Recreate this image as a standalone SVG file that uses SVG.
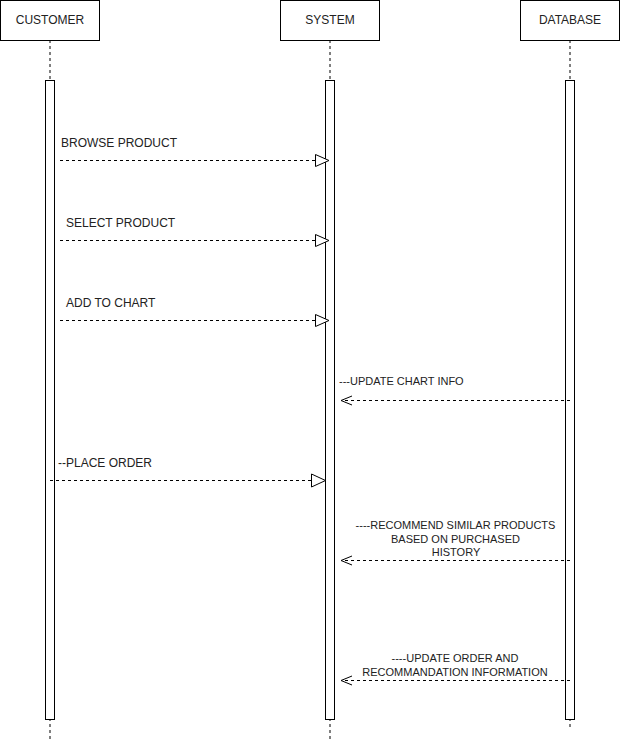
<svg xmlns="http://www.w3.org/2000/svg" width="621" height="741" viewBox="0 0 621 741">
<style>
.box{fill:#fff;stroke:#000;stroke-width:1}
.life{fill:none;stroke:#000;stroke-width:1;stroke-dasharray:3 3}
.msg{fill:none;stroke:#000;stroke-width:1;stroke-dasharray:3 3}
.head{fill:#fff;stroke:#000;stroke-width:1}
.open{fill:none;stroke:#000;stroke-width:1}
text{font-family:"Liberation Sans",Arial,sans-serif;font-size:12px;fill:#222}
.s{font-size:11px}
.c{text-anchor:middle}
</style>
<rect width="621" height="741" fill="#fff"/>
<g id="customer">
<line class="life" x1="50" y1="40" x2="50" y2="740"/>
<rect class="box" x="0.5" y="0.5" width="99" height="40"/>
<text class="c" x="50" y="24">CUSTOMER</text>
<rect class="box" x="45.5" y="80.5" width="9" height="639"/>
</g>
<g id="system">
<line class="life" x1="330" y1="40" x2="330" y2="740"/>
<rect class="box" x="280.5" y="0.5" width="99" height="40"/>
<text class="c" x="330" y="24">SYSTEM</text>
<rect class="box" x="325.5" y="80.5" width="9" height="639"/>
</g>
<g id="database">
<line class="life" x1="570" y1="40" x2="570" y2="730"/>
<rect class="box" x="520.5" y="0.5" width="99" height="40"/>
<text class="c" x="570" y="24">DATABASE</text>
<rect class="box" x="565.5" y="80.5" width="9" height="639"/>
</g>
<g id="connectors">
<line class="msg" x1="60" y1="160.5" x2="315" y2="160.5"/>
<path class="head" d="M315.5 154.5 L329 160.5 L315.5 166.5 Z"/>
<text x="61" y="147">BROWSE PRODUCT</text>

<line class="msg" x1="60" y1="240.5" x2="315" y2="240.5"/>
<path class="head" d="M315.5 234.5 L329 240.5 L315.5 246.5 Z"/>
<text x="66" y="227">SELECT PRODUCT</text>

<line class="msg" x1="60" y1="320.5" x2="315" y2="320.5"/>
<path class="head" d="M315.5 314.5 L329 320.5 L315.5 326.5 Z"/>
<text x="66" y="307">ADD TO CHART</text>

<line class="msg" x1="570" y1="400.5" x2="342" y2="400.5"/>
<path class="open" d="M352 396 L341 400.5 L352 405"/>
<text class="s" x="339" y="385">---UPDATE CHART INFO</text>

<line class="msg" x1="50" y1="480.5" x2="311" y2="480.5"/>
<path class="head" d="M311.5 474 L325.5 480.5 L311.5 487 Z"/>
<text x="58" y="467">--PLACE ORDER</text>

<line class="msg" x1="570" y1="560.5" x2="342" y2="560.5"/>
<path class="open" d="M352 556 L341 560.5 L352 565"/>
<text class="s c" x="455.5" y="529">----RECOMMEND SIMILAR PRODUCTS</text>
<text class="s c" x="455.5" y="542.5">BASED ON PURCHASED</text>
<text class="s c" x="456" y="556">HISTORY</text>

<line class="msg" x1="570" y1="680.5" x2="342" y2="680.5"/>
<path class="open" d="M352 676 L341 680.5 L352 685"/>
<text class="s c" x="455" y="662">----UPDATE ORDER AND</text>
<text class="s c" x="455" y="675.5">RECOMMANDATION INFORMATION</text>
</g>
</svg>
